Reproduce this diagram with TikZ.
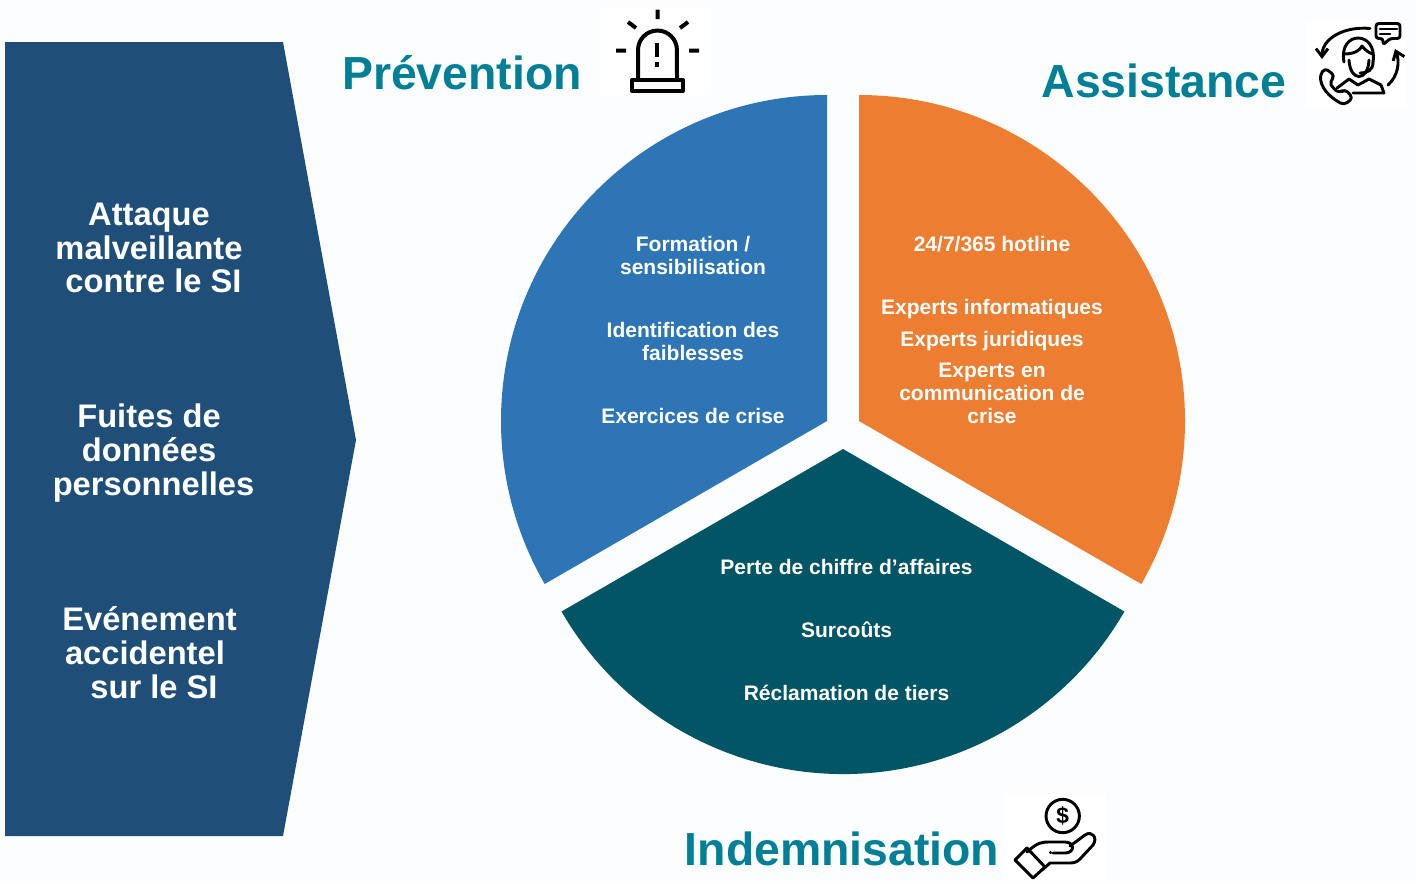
\documentclass[tikz,border=0pt]{standalone}
\usepackage{fontspec}
\setmainfont{Liberation Sans}
\usetikzlibrary{arrows.meta}
\definecolor{panelcol}{HTML}{1F4E79}
\definecolor{prevcol}{HTML}{2E75B6}
\definecolor{assistcol}{HTML}{ED7D31}
\definecolor{indemcol}{HTML}{025564}
\definecolor{titlecol}{HTML}{007F97}
\definecolor{bgcol}{HTML}{FBFDFE}
\begin{document}
\begin{tikzpicture} [x=0.75pt,y=-0.75pt,
            paneltxt/.style={text=white,font=\bfseries\fontsize{24.5}{25.3}\selectfont},
            pietxt/.style={text=white,font=\bfseries\fontsize{15.75}{17.25}\selectfont},
            titletxt/.style={text=titlecol,font=\bfseries\fontsize{34.8}{38}\selectfont},
            icon/.style={line width=3pt,line join=round},
            iconthin/.style={line width=2.2pt,line join=round,line cap=round},
         every node/.append style={align=center,inner sep=0pt}]
\fill[bgcol] (0,0) rectangle (1416,883);
\useasboundingbox (0,0) rectangle (1416,883);
% left panel
\fill[panelcol] (5,42) -- (283,42) -- (356,440) -- (283,836) -- (5,836) -- cycle;
\node (attack) at (149,248) [paneltxt] {Attaque \\ malveillante \\ ~contre le SI};
\node (leak) at (149,453) [paneltxt] {Fuites de \\ données \\ ~personnelles};
\node (accident) at (149.5,652.5) [paneltxt] {Evénement \\ accidentel~~ \\ ~sur le SI};
% pie
\fill[prevcol] (827,421) -- (827,95) arc[start angle=90,end angle=210,radius=244.5pt] -- cycle;
\fill[assistcol] (859,421) -- (859,95) arc[start angle=90,end angle=-30,radius=244.5pt] -- cycle;
\fill[indemcol] (843,449) -- (561.5,611.5) arc[start angle=210,end angle=330,radius=243.75pt] -- cycle;
\node (training) at (693,255.5) [pietxt] {Formation /\\sensibilisation};
\node (weakness) at (693,341.5) [pietxt] {Identification des\\faiblesses};
\node (drills) at (693,416) [pietxt] {Exercices de crise};
\node (hotline) at (992,244) [pietxt] {24/7/365 hotline};
\node (itexp) at (992,309) [pietxt] {Experts informatiques};
\node (legalexp) at (992,341) [pietxt] {Experts juridiques};
\node (commexp) at (992,393) [pietxt] {Experts en\\communication de\\crise};
\node (revenue) at (846.5,567) [pietxt] {Perte de chiffre d’affaires};
\node (extracost) at (846.5,630) [pietxt] {Surcoûts};
\node (claims) at (846.5,693) [pietxt] {Réclamation de tiers};
% titles
\node (prev) at (462,73) [titletxt] {Prévention};
\node (assist) at (1164,81) [titletxt] {Assistance};
\node (indem) at (842,849) [titletxt] {Indemnisation};
% alarm icon
\fill[white] (600,8) rectangle (711,95);
\draw[icon] (657.5,9.5) -- (657.5,19) (628,22) -- (636,28) (688,22) -- (680,28)
  (616,50.5) -- (626,50.5) (689,50.5) -- (699,50.5);
\draw[icon] (638,79) -- (638,50) arc[start angle=180,end angle=0,radius=14.6pt] -- (677,79);
\draw[icon] (632,91) -- (632,80) -- (683,80) -- (683,91) -- cycle;
\draw[icon] (657,43) -- (657,57) (657,62) -- (657,67);
% agent icon
\fill[white] (1306,22) rectangle (1406,108);
\draw[iconthin,rounded corners=2pt] (1376,23.5) -- (1400,23.5) -- (1400,38.5) -- (1390,38.5) -- (1383,45) -- (1383,38.5) -- (1376,38.5) -- cycle;
\draw[iconthin] (1380,29) -- (1397,29) (1380,34) -- (1390,34);
\draw[iconthin,-{Straight Barb[length=6pt,width=9pt]}] (1370,28.5) .. controls (1345,26) and (1322,38) .. (1322,59);
\draw[iconthin,-{Straight Barb[length=6pt,width=9pt]}] (1388,85) .. controls (1398,76) and (1400,62) .. (1395,49);
\draw[iconthin] (1344,62) .. controls (1338,30) and (1378,30) .. (1373,62);
\draw[iconthin] (1344,54) .. controls (1355,54) and (1360,50) .. (1362,46) .. controls (1365,50) and (1369,53) .. (1373,54);
\draw[iconthin] (1349,60) .. controls (1350,82) and (1368,82) .. (1369,60);
\draw[iconthin] (1373,62) .. controls (1373,70) and (1368,73) .. (1360,73);
\draw[iconthin] (1349,79) -- (1358,85) -- (1369,79) -- (1381,85) -- (1384,93) -- (1353,93);
\draw[iconthin] (1337,88) -- (1349,79);
\draw[iconthin,rounded corners=3pt] (1325,68) -- (1320,75) .. controls (1322,92) and (1335,100) .. (1344,105) -- (1353,98) -- (1345,89) -- (1340,93) .. controls (1335,90) and (1331,85) .. (1330,81) -- (1335,76) -- cycle;
% hand icon
\fill[white] (1004,794) rectangle (1106,880);
\draw[iconthin] (1062.7,816) circle[radius=12.5pt];
\node (dollar) at (1062.7,816) [font=\bfseries\fontsize{17}{17}\selectfont] {\$};
\draw[iconthin] (1015,860) -- (1027,848) -- (1045,867) -- (1033,878) -- cycle;
\draw[iconthin] (1027,852) .. controls (1038,842) and (1042,842) .. (1050,842) -- (1065,842) .. controls (1075,842) and (1075,853) .. (1065,853) -- (1053,853);
\draw[iconthin] (1070,846) -- (1085,835) .. controls (1092,830) and (1098,838) .. (1093,845) -- (1080,859) .. controls (1076,863) and (1073,863) .. (1068,863) -- (1050,863) -- (1042,870);
\fill (1050.5,852.5) circle[radius=1.3pt];
\end{tikzpicture}
\end{document}
